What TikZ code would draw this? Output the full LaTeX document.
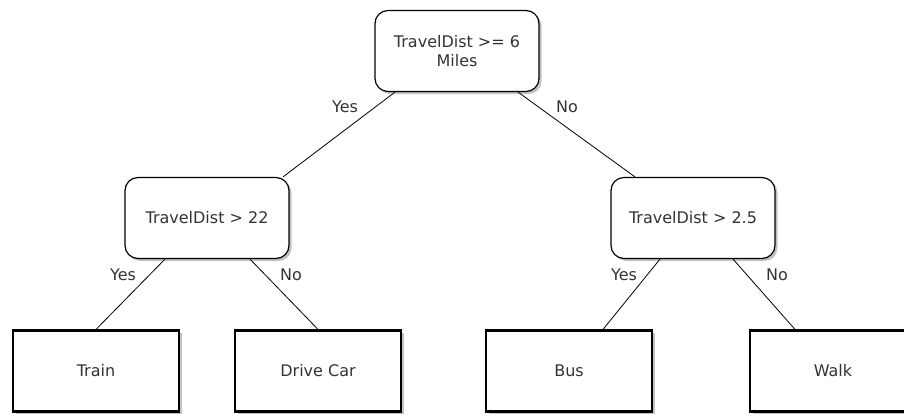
\documentclass[tikz,border=0pt]{standalone}
\usepackage{fontspec}
\setmainfont{DejaVu Sans}
\usetikzlibrary{shadows,calc}
\definecolor{txt}{HTML}{333333}
\begin{document}
\begin{tikzpicture}[x=1pt,y=-1pt,
  every node/.style={font=\fontsize{16}{19}\selectfont, text=txt},
  test/.style={draw=black, line width=1.2pt, fill=white, rounded corners=13pt,
    minimum width=164pt, minimum height=81pt, align=center, inner sep=0pt,
    drop shadow={shadow xshift=2.5pt, shadow yshift=-2.5pt, fill=black!40, opacity=0.6}},
  leaf/.style={draw=black, line width=2.2pt, fill=white,
    minimum width=166pt, minimum height=81pt, inner sep=0pt,
    drop shadow={shadow xshift=2.5pt, shadow yshift=-2.5pt, fill=black!40, opacity=0.6}},
  branch/.style={draw=black, line width=0.8pt},
  lbl/.style={inner sep=0pt}]
\useasboundingbox (0,0) rectangle (904,416);
\begin{scope}
\clip (0,0) rectangle (904,416);
% decision nodes
\node[test] (root) at (457,51) {TravelDist >= 6\\Miles};
\node[test] (lt) at (207,218) {TravelDist > 22};
\node[test] (rt) at (693,218) {TravelDist > 2.5};
% outcomes
\node[leaf] (train) at (96,371) {Train};
\node[leaf] (car)   at (318,371) {Drive Car};
\node[leaf] (bus)   at (569,371) {Bus};
\node[leaf] (walk)  at (833,371) {Walk};
% branches
\draw[branch] ($(root.south)+(-62,0)$) -- ($(lt.north)+(76,0)$);
\draw[branch] ($(root.south)+(61,0)$) -- ($(rt.north)+(-58,0)$);
\draw[branch] ($(lt.south)+(-42,0)$) -- (train.north);
\draw[branch] ($(lt.south)+(43,0)$) -- (car.north);
\draw[branch] ($(rt.south)+(-33,0)$) -- ($(bus.north)+(34,0)$);
\draw[branch] ($(rt.south)+(40,0)$) -- ($(walk.north)+(-38,0)$);
% branch labels
\node[lbl] (y0) at (345,107) {Yes};
\node[lbl] (n0) at (567,107) {No};
\node[lbl] (y1) at (123,275) {Yes};
\node[lbl] (n1) at (291,275) {No};
\node[lbl] (y2) at (624,275) {Yes};
\node[lbl] (n2) at (777,275) {No};
\end{scope}
\end{tikzpicture}
\end{document}
